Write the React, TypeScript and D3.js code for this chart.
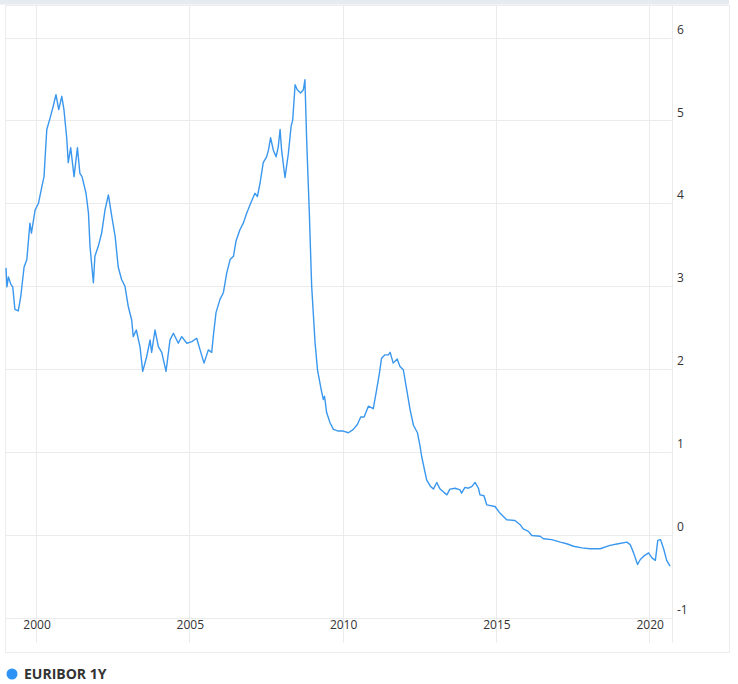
import React from 'react';
import * as d3 from 'd3';

const years = [
  1999.02, 1999.05, 1999.10, 1999.18, 1999.24, 1999.31, 1999.42, 1999.50, 1999.61, 1999.70, 1999.80, 1999.85, 1999.97,
  2000.08, 2000.19, 2000.26, 2000.35, 2000.46, 2000.56, 2000.65, 2000.74, 2000.84, 2000.91,
  2001.00, 2001.05, 2001.13, 2001.24, 2001.35, 2001.43, 2001.50, 2001.63, 2001.71, 2001.76, 2001.87, 2001.92,
  2002.03, 2002.14, 2002.25, 2002.36, 2002.47, 2002.58, 2002.68, 2002.79, 2002.90,
  2003.01, 2003.12, 2003.17, 2003.27, 2003.39, 2003.48, 2003.61, 2003.72, 2003.77, 2003.88, 2003.99,
  2004.10, 2004.24, 2004.37, 2004.48, 2004.64, 2004.75, 2004.92,
  2005.08, 2005.24, 2005.35, 2005.48, 2005.62, 2005.73, 2005.78, 2005.87,
  2006.00, 2006.11, 2006.22, 2006.33, 2006.44, 2006.52, 2006.65, 2006.76, 2006.87,
  2007.00, 2007.14, 2007.22, 2007.31, 2007.41, 2007.52, 2007.58, 2007.65, 2007.74, 2007.83, 2007.90, 2007.96,
  2008.01, 2008.12, 2008.23, 2008.32, 2008.37, 2008.45, 2008.52, 2008.63, 2008.72, 2008.77, 2008.83, 2008.91, 2008.99,
  2009.10, 2009.18, 2009.29, 2009.37, 2009.41, 2009.48, 2009.59, 2009.70, 2009.86,
  2010.02, 2010.19, 2010.35, 2010.48, 2010.59, 2010.70, 2010.84,
  2011.00, 2011.11, 2011.20, 2011.27, 2011.38, 2011.49, 2011.55, 2011.65, 2011.78, 2011.87, 2011.98,
  2012.09, 2012.20, 2012.31, 2012.44, 2012.52, 2012.58, 2012.74, 2012.87, 2012.96,
  2013.07, 2013.18, 2013.40, 2013.50, 2013.67, 2013.83, 2013.88, 2013.99,
  2014.10, 2014.21, 2014.32, 2014.43, 2014.48, 2014.61, 2014.70, 2014.97,
  2015.13, 2015.35, 2015.62, 2015.79, 2015.89,
  2016.06, 2016.17, 2016.44, 2016.55, 2016.82,
  2017.10, 2017.31, 2017.53, 2017.80,
  2018.07, 2018.40, 2018.72, 2018.99,
  2019.27, 2019.38, 2019.49, 2019.62, 2019.71, 2019.82, 2019.98,
  2020.09, 2020.20, 2020.28, 2020.37, 2020.47, 2020.57, 2020.68,
];

const rates = [
  3.22, 2.99, 3.11, 3.02, 2.99, 2.72, 2.70, 2.87, 3.23, 3.32, 3.76, 3.64, 3.92,
  4.00, 4.20, 4.32, 4.89, 5.03, 5.17, 5.31, 5.13, 5.29, 5.13,
  4.79, 4.49, 4.67, 4.32, 4.67, 4.36, 4.32, 4.12, 3.88, 3.48, 3.04, 3.36,
  3.48, 3.64, 3.92, 4.10, 3.84, 3.60, 3.23, 3.08, 3.00,
  2.75, 2.59, 2.39, 2.47, 2.27, 1.97, 2.15, 2.35, 2.20, 2.47, 2.27,
  2.20, 1.97, 2.35, 2.43, 2.31, 2.39, 2.31,
  2.33, 2.37, 2.23, 2.07, 2.23, 2.20, 2.39, 2.68,
  2.84, 2.92, 3.16, 3.32, 3.36, 3.54, 3.68, 3.76, 3.88,
  4.00, 4.12, 4.08, 4.25, 4.49, 4.56, 4.64, 4.79, 4.64, 4.56, 4.68, 4.89,
  4.64, 4.31, 4.60, 4.93, 5.00, 5.43, 5.37, 5.33, 5.37, 5.49, 4.73, 3.92, 3.00,
  2.32, 1.99, 1.77, 1.63, 1.67, 1.47, 1.35, 1.27, 1.25,
  1.25, 1.23, 1.27, 1.33, 1.42, 1.42, 1.55,
  1.52, 1.75, 1.95, 2.13, 2.17, 2.17, 2.20, 2.07, 2.12, 2.03, 1.99,
  1.75, 1.51, 1.32, 1.23, 1.08, 0.94, 0.66, 0.58, 0.55,
  0.63, 0.55, 0.48, 0.55, 0.56, 0.54, 0.50, 0.57,
  0.56, 0.58, 0.63, 0.56, 0.48, 0.47, 0.36, 0.34,
  0.26, 0.18, 0.17, 0.12, 0.07,
  0.04, -0.01, -0.02, -0.05, -0.06,
  -0.09, -0.11, -0.14, -0.16,
  -0.17, -0.17, -0.13, -0.11,
  -0.09, -0.12, -0.22, -0.36, -0.30, -0.26, -0.22,
  -0.28, -0.31, -0.07, -0.06, -0.17, -0.31, -0.38,
];

const xTicks = [2000, 2005, 2010, 2015, 2020];
const yTicks = [-1, 0, 1, 2, 3, 4, 5, 6];
const seriesName = 'EURIBOR 1Y';

const FONT = '"Open Sans", "Noto Sans", sans-serif';
const LINE_COLOR = '#3a97ee';
const GRID = '#ebebeb';

export default function App() {
  const W = 738;
  const H = 684;
  const plotLeft = 6;
  const plotRight = 671.5;
  const plotTop = 6;
  const plotBottom = 643;

  const x = d3.scaleLinear().domain([1999.02, 2020.727]).range([plotLeft, plotRight]);
  const y = d3.scaleLinear().domain([-1, 6]).range([617.5, 37.5]);

  const data = years.map((t, i) => ({ t, v: rates[i] }));
  const line = d3
    .line<{ t: number; v: number }>()
    .x((d) => x(d.t))
    .y((d) => y(d.v));

  return (
    <div style={{ position: 'absolute', left: 0, top: 0 }}>
      <svg width={W} height={H} style={{ display: 'block', fontFamily: FONT }}>
        <rect x={0} y={0} width={W} height={H} fill="#ffffff" />
        <rect x={0} y={0} width={729} height={4.5} fill="#e6ebf1" />
        {/* frame */}
        <rect x={5.5} y={5.5} width={724} height={647} fill="none" stroke="#ececec" strokeWidth={1} />
        {/* horizontal grid */}
        {yTicks.map((v) => (
          <line
            key={'h' + v}
            x1={plotLeft}
            x2={plotRight}
            y1={Math.round(y(v)) + 0.5}
            y2={Math.round(y(v)) + 0.5}
            stroke={GRID}
            strokeWidth={1}
          />
        ))}
        {/* vertical grid */}
        {xTicks.map((t) => (
          <line
            key={'v' + t}
            x1={Math.round(x(t)) + 0.5}
            x2={Math.round(x(t)) + 0.5}
            y1={plotTop}
            y2={plotBottom}
            stroke={GRID}
            strokeWidth={1}
          />
        ))}
        <line x1={672.5} x2={672.5} y1={plotTop} y2={plotBottom} stroke={GRID} strokeWidth={1} />
        {/* y labels */}
        {yTicks.map((v) => (
          <text
            key={'yl' + v}
            x={677}
            y={y(v) - 8}
            dy="0.35em"
            fontSize={12}
            fill="#333"
          >
            {v}
          </text>
        ))}
        {/* x labels */}
        {xTicks.map((t) => (
          <text
            key={'xl' + t}
            x={x(t) + 1}
            y={625}
            dy="0.35em"
            fontSize={12}
            fill="#333"
            textAnchor="middle"
          >
            {t}
          </text>
        ))}
        {/* series */}
        <path d={line(data) || ''} fill="none" stroke={LINE_COLOR} strokeWidth={1.4} strokeLinejoin="round" />
        {/* legend */}
        <circle cx={12} cy={674} r={5.5} fill="#2f93f5" />
        <text x={24} y={674} dy="0.35em" fontSize={14} fontWeight="bold" fill="#333">
          {seriesName}
        </text>
      </svg>
    </div>
  );
}
